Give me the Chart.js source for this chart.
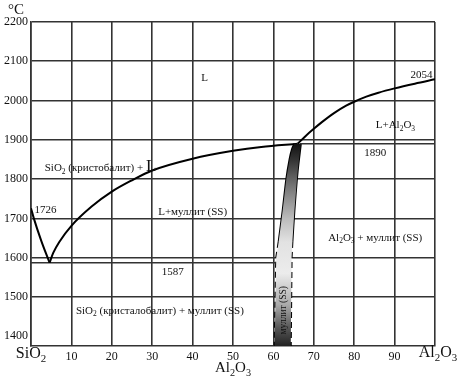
<!DOCTYPE html>
<html>
<head>
<meta charset="utf-8">
<script src="https://cdn.jsdelivr.net/npm/chart.js@4.4.1/dist/chart.umd.min.js"></script>
<style>
  body { margin: 0; background: #fff; }
  canvas { display: block; }
</style>
</head>
<body>
<canvas id="phaseChart" width="457" height="376"></canvas>
<script>
// axis ticks
const tempTicks = [1400, 1500, 1600, 1700, 1800, 1900, 2000, 2100, 2200];
const compTicks = [0, 10, 20, 30, 40, 50, 60, 70, 80, 90, 100];

// liquidus SiO2 side (cristobalite)
const liqSiO2X = [0, 0.7, 2.5, 4.6];
const liqSiO2Y = [1726, 1700, 1644, 1587];
// liquidus of mullite
const liqMulX = [4.6, 5.5, 7, 10, 15, 20, 25, 30, 40, 50, 57, 66];
const liqMulY = [1587, 1612, 1640, 1681, 1730, 1768, 1797, 1822, 1852, 1872, 1882, 1890];
// liquidus of corundum
const liqCorX = [66, 68, 70, 72, 75, 78, 80, 83, 86, 90, 95, 100];
const liqCorY = [1890, 1910, 1928, 1945, 1968, 1987, 1997, 2010, 2020, 2031, 2043, 2054];

// isotherms
const eutX = [0, 60.6];
const eutY = [1587, 1587];
const perX = [66.5, 100];
const perY = [1890, 1890];

// mullite solid solution boundaries
const mulLeftX = [65.2, 64.6, 64.0, 63.2, 62.3, 61.3];
const mulLeftY = [1890, 1876, 1850, 1800, 1720, 1640];
const mulLeftDashX = [61.3, 60.7, 60.3];
const mulLeftDashY = [1640, 1600, 1375];
const mulRightX = [66.8, 66.0, 65.2, 64.7];
const mulRightY = [1890, 1820, 1720, 1640];
const mulRightDashX = [64.7, 64.5, 64.3];
const mulRightDashY = [1640, 1600, 1375];

// text in the fields (data coords)
const noteText = ['L', '2054', 'L+Al_2O_3', '1890', 'SiO_2 (кристобалит) + ~L', '1726',
  'L+муллит (SS)', 'Al_2O_3 + муллит (SS)', '1587', 'SiO_2 (кристалобалит) + муллит (SS)'];
const noteX = [43, 99.4, 90.2, 85.2, 3.4, 3.6, 40, 85.2, 35.1, 31.9];
const noteY = [2060, 2067, 1940, 1868, 1830, 1723, 1719, 1653, 1566, 1467];
const noteAlign = ['center', 'right', 'center', 'center', 'left', 'center', 'center', 'center', 'center', 'center'];

const pts = (xs, ys) => xs.map((v, i) => ({ x: v, y: ys[i] }));

const FONT = '"Liberation Serif", "DejaVu Serif", serif';

// draws text with _x subscripts and ~x bigger letters
function richRuns(str) {
  const runs = [];
  for (let i = 0; i < str.length; i++) {
    const c = str[i];
    if ((c === '_' || c === '~') && i + 1 < str.length) {
      runs.push({ t: str[i + 1], k: c === '_' ? 'sub' : 'big' });
      i++;
    } else {
      if (runs.length && runs[runs.length - 1].k === 'n') runs[runs.length - 1].t += c;
      else runs.push({ t: c, k: 'n' });
    }
  }
  return runs;
}

function drawRich(ctx, str, x, y, size, align, rot) {
  const runs = richRuns(str);
  const fontFor = k => (k === 'sub' ? size * 0.68 : k === 'big' ? size * 1.55 : size) + 'px ' + FONT;
  let w = 0;
  runs.forEach(r => { ctx.font = fontFor(r.k); r.w = ctx.measureText(r.t).width; w += r.w; });
  ctx.save();
  ctx.translate(x, y);
  if (rot) ctx.rotate(rot);
  let cx = align === 'left' ? 0 : align === 'right' ? -w : -w / 2;
  ctx.fillStyle = '#111';
  ctx.textBaseline = 'alphabetic';
  const base = size * 0.35;
  runs.forEach(r => {
    ctx.font = fontFor(r.k);
    const dy = r.k === 'sub' ? base + size * 0.25 : base;
    ctx.fillText(r.t, cx, dy);
    cx += r.w;
  });
  ctx.restore();
}

const notesPlugin = {
  id: 'notes',
  afterDatasetsDraw(chart) {
    const { ctx, chartArea } = chart;
    const xs = chart.scales.x, ys = chart.scales.y;
    for (let i = 0; i < noteText.length; i++) {
      drawRich(ctx, noteText[i], xs.getPixelForValue(noteX[i]), ys.getPixelForValue(noteY[i]), 11, noteAlign[i]);
    }
    // label inside the mullite band
    drawRich(ctx, 'муллит (SS)', xs.getPixelForValue(62.2), ys.getPixelForValue(1466), 9.5, 'center', -Math.PI / 2);
    // axis end labels + titles
    const bottom = chartArea.bottom;
    drawRich(ctx, 'SiO_2', xs.getPixelForValue(0), bottom + 6, 16, 'center');
    drawRich(ctx, 'Al_2O_3', xs.getPixelForValue(100) + 3, bottom + 5, 16, 'center');
    drawRich(ctx, 'Al_2O_3', (chartArea.left + chartArea.right) / 2, bottom + 21, 15, 'center');
    drawRich(ctx, '°C', 16, 9, 15, 'center');
  }
};

const bandPoints = pts(mulLeftX.concat(mulLeftDashX.slice(1)), mulLeftY.concat(mulLeftDashY.slice(1)))
  .concat(pts(mulRightDashX.slice().reverse(), mulRightDashY.slice().reverse()))
  .concat(pts(mulRightX.slice(0, -1).reverse(), mulRightY.slice(0, -1).reverse()));
bandPoints.push({ x: mulLeftX[0], y: mulLeftY[0] });

function bandGradient(context) {
  const chart = context.chart;
  if (!chart.chartArea) return '#888';
  const y = chart.scales.y;
  const top = y.getPixelForValue(1890), bot = y.getPixelForValue(1375);
  const g = chart.ctx.createLinearGradient(0, top, 0, bot);
  const stops = [[1890, '#111'], [1850, '#333'], [1780, '#777'], [1700, '#bbb'], [1640, '#e2e2e2'],
    [1560, '#ececec'], [1480, '#aaa'], [1420, '#555'], [1375, '#222']];
  stops.forEach(s => g.addColorStop((y.getPixelForValue(s[0]) - top) / (bot - top), s[1]));
  return g;
}

const line = (data, extra) => Object.assign({
  data: data, showLine: true, borderColor: '#000', borderWidth: 2,
  pointRadius: 0, cubicInterpolationMode: 'monotone', fill: false
}, extra || {});

const grid = '#333';

const chart = new Chart(document.getElementById('phaseChart'), {
  type: 'scatter',
  data: {
    datasets: [
      line(bandPoints, { borderWidth: 0, cubicInterpolationMode: 'default', tension: 0, fill: 'shape', backgroundColor: bandGradient }),
      line(pts(liqSiO2X, liqSiO2Y)),
      line(pts(liqMulX, liqMulY)),
      line(pts(liqCorX, liqCorY)),
      line(pts(eutX, eutY), { cubicInterpolationMode: 'default', tension: 0, borderColor: grid, borderWidth: 1.6 }),
      line(pts(perX, perY), { cubicInterpolationMode: 'default', tension: 0, borderColor: grid, borderWidth: 1.6 }),
      line(pts(mulLeftX, mulLeftY), { cubicInterpolationMode: 'default', tension: 0.3 }),
      line(pts(mulLeftDashX, mulLeftDashY), { cubicInterpolationMode: 'default', tension: 0, borderDash: [6, 4] }),
      line(pts(mulRightX, mulRightY), { cubicInterpolationMode: 'default', tension: 0.3 }),
      line(pts(mulRightDashX, mulRightDashY), { cubicInterpolationMode: 'default', tension: 0, borderDash: [6, 4] })
    ]
  },
  options: {
    responsive: false,
    animation: false,
    devicePixelRatio: 1,
    layout: { padding: { top: 22, right: 22, left: 0, bottom: 0 } },
    plugins: { legend: { display: false }, tooltip: { enabled: false } },
    scales: {
      x: {
        type: 'linear', min: 0, max: 100,
        afterBuildTicks: s => { s.ticks = compTicks.map(v => ({ value: v })); },
        afterFit: s => { s.height = 30; },
        grid: { color: grid, lineWidth: 1.6, drawTicks: false },
        border: { display: true, color: grid, width: 1.6 },
        ticks: {
          padding: 4, color: '#111',
          font: { family: FONT, size: 12 },
          callback: v => (v === 0 || v === 100 ? '' : String(v))
        }
      },
      y: {
        type: 'linear', min: 1375, max: 2200,
        afterBuildTicks: s => { s.ticks = tempTicks.map(v => ({ value: v })); },
        afterFit: s => { s.width = 31; },
        grid: {
          color: c => (c.tick && c.tick.value === 1400 ? 'rgba(0,0,0,0)' : grid),
          lineWidth: 1.6, drawTicks: false
        },
        border: { display: true, color: grid, width: 1.6 },
        ticks: {
          padding: 3, color: '#111',
          font: { family: FONT, size: 12 },
          callback: v => String(v)
        }
      }
    }
  },
  plugins: [notesPlugin]
});
</script>
</body>
</html>
